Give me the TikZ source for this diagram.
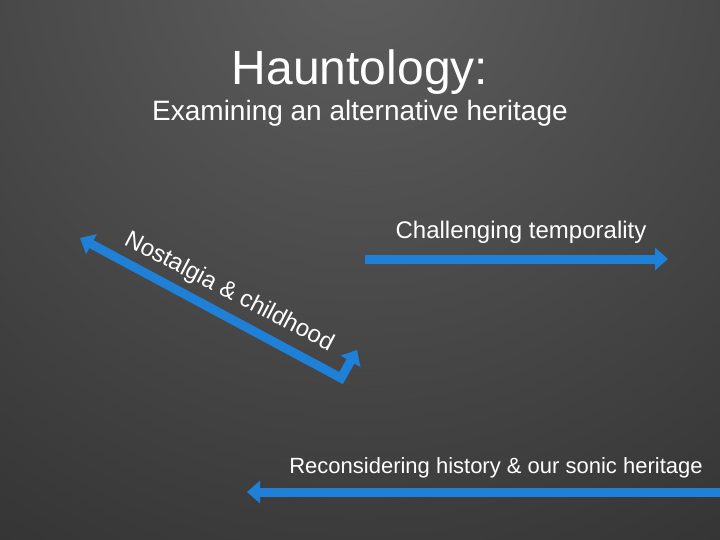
\documentclass[tikz,border=0pt]{standalone}
\usepackage{fontspec}
\setmainfont{Liberation Sans}
\usetikzlibrary{arrows.meta}
\definecolor{bgin}{HTML}{5E5E5E}
\definecolor{bgout}{HTML}{1C1C1C}
\definecolor{arrowblue}{HTML}{1F80D8}
\tikzset{
  txt/.style={text=white, inner sep=0pt, font=\fontsize{#1}{#1}\selectfont},
  bluearrow/.style={draw=arrowblue, line width=9pt, line join=miter,
    {Triangle[width=22pt,length=13pt]}-{Triangle[width=22pt,length=13pt]}},
  onearrow/.style={draw=arrowblue, line width=9pt,
    -{Triangle[width=22pt,length=13pt]}}
}
\begin{document}
\begin{tikzpicture}[x=1pt,y=-1pt]
\useasboundingbox (0,0) rectangle (720,540);
\begin{scope}
\clip (0,0) rectangle (720,540);
\shade[inner color=bgin, outer color=bgout] (360,-40) circle (1100);
\end{scope}
% titles
\node[txt=48, anchor=base] (title) at (360,85) {Hauntology:};
\node[txt=28, anchor=base] (sub) at (360,121) {Examining an alternative heritage};
\node[txt=24, anchor=base] (chal) at (521,238) {Challenging temporality};
\node[txt=22, anchor=base] (recon) at (496,473) {Reconsidering history \& our sonic heritage};
\node[txt=24, anchor=base west, rotate=-27.5] (nost) at (123,244) {Nostalgia \& childhood};
% arrows
\coordinate (dA) at (80,238);
\coordinate (dB) at (341,378);
\coordinate (dC) at (357,350);
\draw[bluearrow] (dA) -- (dB) -- (dC);
\coordinate (tA) at (365,259);
\coordinate (tB) at (668,259);
\draw[onearrow] (tA) -- (tB);
\coordinate (bA) at (730,492);
\coordinate (bB) at (247,492);
\draw[onearrow] (bA) -- (bB);
\end{tikzpicture}
\end{document}
